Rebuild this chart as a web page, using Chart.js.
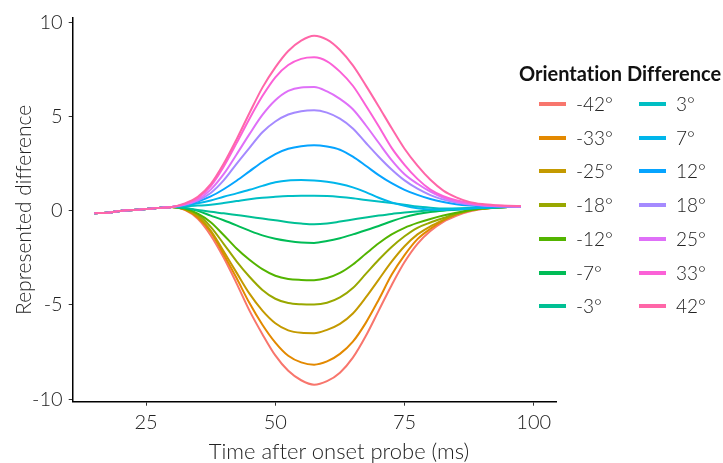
<!DOCTYPE html>
<html>
<head>
<meta charset="utf-8">
<script src="https://cdn.jsdelivr.net/npm/chart.js@4"></script>
<style>
  body { margin: 0; background: #fff; font-family: Lato, sans-serif; font-variant-ligatures: none; }
  #wrap { position: relative; width: 723px; height: 463px; overflow: hidden; }
  #xtitle { position: absolute; left: 139px; width: 400px; top: 437px; text-align: center;
            font-size: 22px; font-weight: 300; color: #222; white-space: nowrap; }
  #legend { position: absolute; left: 519px; top: 61px; color: #111; }
  #legend .title { font-weight: bold; font-size: 20px; white-space: nowrap; }
  .item { position: absolute; height: 20px; font-size: 19px; font-weight: 300; color: #222; line-height: 20px; white-space: nowrap; }
  .item span.key { position: absolute; left: 0; top: 8px; width: 27px; height: 4px; }
  .item span.lab { position: absolute; left: 37px; top: 0; }
</style>
</head>
<body>
<div id="wrap">
  <canvas id="myChart" width="723" height="463"></canvas>
  <div id="xtitle">Time after onset probe (ms)</div>
  <div id="legend"><div class="title">Orientation Difference</div></div>
</div>
<script>
// time (ms), every 2.5 ms
let times = [15, 17.5, 20, 22.5, 25, 27.5, 30, 32.5, 35, 37.5, 40, 42.5, 45, 47.5, 50, 52.5, 55, 57.5,
             60, 62.5, 65, 67.5, 70, 72.5, 75, 77.5, 80, 82.5, 85, 87.5, 90, 92.5, 95, 97.5];

let labels = ["-42°", "-33°", "-25°", "-18°", "-12°", "-7°", "-3°", "3°", "7°", "12°", "18°", "25°", "33°", "42°"];
let colors = ["#F8766D", "#E38900", "#C49A00", "#99A800", "#53B400", "#00BC56", "#00C094",
              "#00BFC4", "#00B6EB", "#06A4FF", "#A58AFF", "#DF70F8", "#FB61D7", "#FF66A8"];

// represented difference per orientation difference (first 7 values: shared lead-in)
let m42 = [-0.12, -0.1, 0, 0.05, 0.1, 0.16, 0.21, 0.06, -0.42, -1.3, -2.48, -3.85, -5.3, -6.55, -7.68, -8.5, -9.0, -9.24,
           -9.05, -8.6, -7.8, -6.65, -5.3, -3.95, -2.72, -1.75, -1.07, -0.58, -0.26, -0.03, 0.1, 0.16, 0.2, 0.2];
let m33 = [-0.12, -0.1, 0, 0.05, 0.1, 0.16, 0.21, 0.07, -0.35, -1.12, -2.3, -3.57, -4.9, -6.05, -7.0, -7.7, -8.05, -8.17,
           -8.0, -7.6, -6.95, -5.95, -4.72, -3.4, -2.35, -1.5, -0.95, -0.5, -0.18, 0.02, 0.12, 0.17, 0.2, 0.2];
let m25 = [-0.12, -0.1, 0, 0.05, 0.1, 0.16, 0.21, 0.08, -0.3, -1.05, -2.15, -3.28, -4.4, -5.3, -5.97, -6.35, -6.48, -6.5,
           -6.32, -6.0, -5.45, -4.6, -3.65, -2.7, -1.88, -1.25, -0.82, -0.48, -0.18, 0.02, 0.12, 0.17, 0.2, 0.2];
let m18 = [-0.12, -0.1, 0, 0.05, 0.1, 0.16, 0.21, 0.1, -0.2, -0.85, -1.75, -2.68, -3.5, -4.2, -4.67, -4.9, -4.96, -4.97,
           -4.88, -4.6, -4.1, -3.35, -2.6, -1.92, -1.35, -0.9, -0.62, -0.38, -0.15, 0.02, 0.12, 0.17, 0.2, 0.2];
let m12 = [-0.12, -0.1, 0, 0.05, 0.1, 0.16, 0.21, 0.12, -0.15, -0.6, -1.28, -2.0, -2.6, -3.1, -3.45, -3.62, -3.67, -3.68,
           -3.57, -3.3, -2.85, -2.28, -1.72, -1.25, -0.9, -0.64, -0.43, -0.25, -0.1, 0.03, 0.12, 0.17, 0.2, 0.2];
let m7 = [-0.12, -0.1, 0, 0.05, 0.1, 0.16, 0.21, 0.15, 0.0, -0.25, -0.5, -0.77, -1.05, -1.3, -1.48, -1.6, -1.68, -1.7,
          -1.6, -1.45, -1.25, -1.03, -0.8, -0.55, -0.33, -0.17, -0.06, 0.01, 0.06, 0.11, 0.15, 0.18, 0.2, 0.2];
let m3 = [-0.12, -0.1, 0, 0.05, 0.1, 0.16, 0.21, 0.15, 0.05, -0.05, -0.13, -0.22, -0.31, -0.41, -0.5, -0.6, -0.67, -0.71,
          -0.67, -0.57, -0.46, -0.35, -0.25, -0.16, -0.09, -0.03, 0.03, 0.08, 0.12, 0.15, 0.17, 0.19, 0.2, 0.2];
let p3 = [-0.12, -0.1, 0, 0.05, 0.1, 0.16, 0.21, 0.25, 0.28, 0.33, 0.42, 0.52, 0.62, 0.7, 0.75, 0.79, 0.81, 0.81,
          0.79, 0.74, 0.67, 0.58, 0.5, 0.42, 0.33, 0.23, 0.17, 0.13, 0.13, 0.15, 0.17, 0.19, 0.2, 0.2];
let p7 = [-0.12, -0.1, 0, 0.05, 0.1, 0.16, 0.21, 0.3, 0.4, 0.55, 0.75, 0.93, 1.12, 1.33, 1.52, 1.62, 1.64, 1.62,
          1.55, 1.43, 1.25, 1.0, 0.7, 0.45, 0.27, 0.14, 0.07, 0.05, 0.08, 0.12, 0.16, 0.19, 0.2, 0.2];
let p12 = [-0.12, -0.1, 0, 0.05, 0.1, 0.16, 0.21, 0.32, 0.5, 0.77, 1.15, 1.6, 2.1, 2.6, 3.02, 3.3, 3.44, 3.49,
           3.42, 3.25, 2.88, 2.4, 1.9, 1.47, 1.12, 0.85, 0.63, 0.47, 0.35, 0.28, 0.24, 0.21, 0.2, 0.2];
let p18 = [-0.12, -0.1, 0, 0.05, 0.1, 0.16, 0.21, 0.33, 0.55, 0.95, 1.62, 2.5, 3.35, 4.18, 4.75, 5.12, 5.3, 5.35,
           5.22, 4.9, 4.38, 3.62, 2.88, 2.2, 1.62, 1.18, 0.84, 0.6, 0.44, 0.34, 0.28, 0.25, 0.23, 0.22];
let p25 = [-0.12, -0.1, 0, 0.05, 0.1, 0.16, 0.21, 0.35, 0.6, 1.13, 1.95, 3.0, 4.08, 5.1, 5.88, 6.38, 6.56, 6.58,
           6.35, 5.95, 5.4, 4.55, 3.62, 2.7, 1.95, 1.44, 1.02, 0.7, 0.5, 0.38, 0.3, 0.26, 0.24, 0.23];
let p33 = [-0.12, -0.1, 0, 0.05, 0.1, 0.16, 0.21, 0.37, 0.68, 1.32, 2.35, 3.6, 4.9, 6.1, 7.1, 7.75, 8.08, 8.16,
           7.95, 7.4, 6.65, 5.6, 4.5, 3.35, 2.45, 1.7, 1.13, 0.78, 0.57, 0.42, 0.33, 0.28, 0.25, 0.24];
let p42 = [-0.12, -0.1, 0, 0.05, 0.1, 0.16, 0.21, 0.4, 0.75, 1.42, 2.5, 3.8, 5.2, 6.55, 7.63, 8.5, 9.05, 9.31,
           9.1, 8.55, 7.73, 6.67, 5.55, 4.4, 3.3, 2.4, 1.65, 1.08, 0.72, 0.48, 0.36, 0.3, 0.27, 0.26];

let series = [m42, m33, m25, m18, m12, m7, m3, p3, p7, p12, p18, p25, p33, p42];

let xTicks = [25, 50, 75, 100];
let yTicks = [-10, -5, 0, 5, 10];

let FONT = "Lato, sans-serif";

let datasets = series.map((vals, i) => ({
  label: labels[i],
  data: times.map((t, j) => ({ x: t, y: vals[j] })),
  borderColor: colors[i],
  backgroundColor: colors[i],
  borderWidth: 2,
  pointRadius: 0,
  fill: false,
  cubicInterpolationMode: "monotone",
  order: series.length - 1 - i,
}));

let ctx = document.getElementById("myChart").getContext("2d");
let chart = new Chart(ctx, {
  type: "line",
  data: { datasets: datasets },
  options: {
    responsive: false,
    animation: false,
    layout: { padding: { left: 0, right: 167, top: 16, bottom: 0 } },
    plugins: { legend: { display: false }, tooltip: { enabled: false } },
    scales: {
      x: {
        type: "linear",
        min: 10.8,
        max: 104.3,
        afterBuildTicks: (s) => { s.ticks = xTicks.map((v) => ({ value: v })); },
        afterFit: (s) => { s.height = 61.3; },
        grid: { drawOnChartArea: false, drawTicks: true, tickLength: 4, color: "#333", lineWidth: 1 },
        border: { display: true, color: "#000", width: 1.5 },
        ticks: { color: "#222", font: { family: FONT, size: 20, weight: 300 }, padding: 5, maxRotation: 0 },
      },
      y: {
        type: "linear",
        min: -10.14,
        max: 10.25,
        afterBuildTicks: (s) => { s.ticks = yTicks.map((v) => ({ value: v })); },
        afterFit: (s) => { s.width = 72.7; },
        grid: { drawOnChartArea: false, drawTicks: true, tickLength: 4, color: "#333", lineWidth: 1 },
        border: { display: true, color: "#000", width: 1.5 },
        ticks: { color: "#222", font: { family: FONT, size: 20, weight: 300 }, padding: 6 },
        title: { display: true, text: "Represented difference", color: "#222", font: { family: FONT, size: 21, weight: 300 }, padding: { top: 12, bottom: 2 } },
      },
    },
  },
});

// legend in two columns, filled column by column
let legend = document.getElementById("legend");
labels.forEach((lab, i) => {
  let col = Math.floor(i / 7);
  let row = i % 7;
  let item = document.createElement("div");
  item.className = "item";
  item.style.left = (20 + col * 100) + "px";
  item.style.top = (33 + row * 33.7) + "px";
  item.innerHTML = '<span class="key" style="background:' + colors[i] + '"></span><span class="lab">' + lab + "</span>";
  legend.appendChild(item);
});
</script>
</body>
</html>
